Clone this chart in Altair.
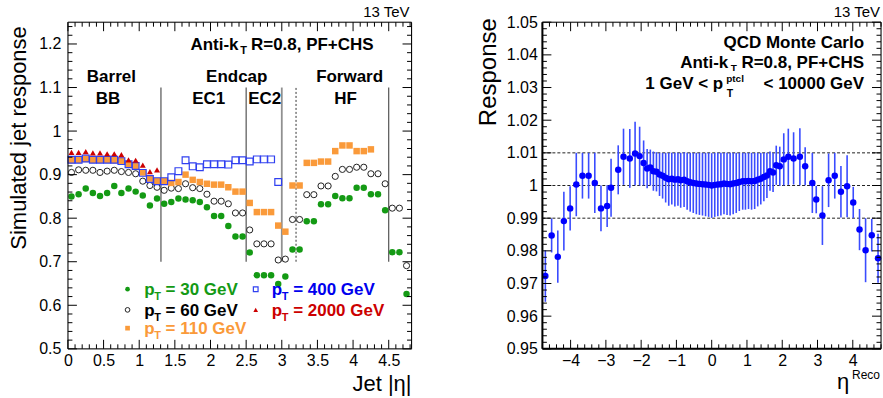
import altair as alt
import pandas as pd

FONT = "Liberation Sans"

# ---------------- left panel data ----------------
eta_bins = [0.05, 0.15, 0.25, 0.35, 0.45, 0.55, 0.65, 0.75, 0.85, 0.95, 1.05, 1.15,
            1.25, 1.35, 1.45, 1.55, 1.65, 1.75, 1.85, 1.95, 2.05, 2.15, 2.25, 2.35,
            2.45, 2.55, 2.65, 2.75, 2.85, 2.95, 3.05, 3.15, 3.25, 3.35, 3.45, 3.55,
            3.65, 3.75, 3.85, 3.95, 4.05, 4.15, 4.25, 4.35, 4.45, 4.55, 4.65, 4.75]
N = None
pt30 = [0.850, 0.855, 0.868, 0.858, 0.851, 0.858, 0.874, 0.858, 0.868, 0.861, 0.852, 0.829,
        0.845, 0.833, 0.837, 0.845, 0.843, 0.841, 0.837, 0.825, 0.805, 0.805, 0.782, 0.758,
        0.758, 0.721, 0.669, 0.669, 0.669, 0.649, 0.666, 0.728, 0.728, 0.793, 0.793, 0.832,
        0.832, 0.851, 0.846, 0.846, 0.870, 0.870, 0.855, 0.855, 0.818, 0.722, 0.722, 0.626]
pt60 = [0.905, 0.911, 0.910, 0.910, 0.905, 0.908, 0.910, 0.907, 0.905, 0.902, 0.885, 0.875,
        0.871, 0.864, 0.869, 0.868, 0.879, 0.870, 0.868, 0.855, 0.839, 0.839, 0.833, 0.812,
        0.812, 0.773, 0.741, 0.741, 0.741, 0.704, 0.706, 0.797, 0.797, 0.854, 0.854, 0.874,
        0.874, 0.896, 0.912, 0.912, 0.917, 0.917, 0.902, 0.902, 0.879, 0.823, 0.823, 0.691]
pt110 = [0.933, 0.934, 0.936, 0.934, 0.934, 0.934, 0.933, 0.931, 0.924, 0.920, 0.905, 0.891,
         0.885, 0.885, 0.881, 0.883, 0.900, 0.888, 0.883, 0.879, 0.877, 0.877, 0.871, 0.861,
         0.861, 0.835, 0.814, 0.814, 0.814, 0.783, 0.769, 0.875, 0.875, 0.927, 0.927, 0.930,
         0.930, 0.954, 0.967, 0.967, 0.954, 0.954, 0.958, N, N, N, N, N]
pt400 = [0.934, 0.934, 0.937, 0.934, 0.934, 0.934, 0.934, 0.931, 0.924, 0.920, 0.904, 0.890,
         0.885, 0.885, 0.894, 0.908, 0.933, 0.919, 0.917, 0.924, 0.924, 0.924, 0.923, 0.933,
         0.933, 0.930, 0.935, 0.935, 0.935, 0.883, N, N, N, N, N, N,
         N, N, N, N, N, N, N, N, N, N, N, N]
pt2000 = [0.951, 0.951, 0.953, 0.950, 0.950, 0.948, 0.948, 0.946, 0.934, 0.933, 0.922, 0.907,
          0.911, N, N, N, N, N, N, N, N, N, N, N,
          N, N, N, N, N, N, N, N, N, N, N, N,
          N, N, N, N, N, N, N, N, N, N, N, N]
region_lines = [1.305, 2.5, 4.5]
ec2_line = [3.0]
hf_line = [3.2]

# ---------------- right panel data ----------------
eta_reco = [-4.716, -4.538, -4.363, -4.191, -4.013, -3.839, -3.664, -3.489, -3.314, -3.139,
            -2.964, -2.853, -2.65, -2.5, -2.322, -2.172, -2.043, -1.93, -1.83, -1.74,
            -1.653, -1.566, -1.479, -1.392, -1.305, -1.218, -1.131, -1.044, -0.957, -0.879,
            -0.783, -0.696, -0.609, -0.522, -0.435, -0.348, -0.261, -0.174, -0.087, 0.0,
            0.087, 0.174, 0.261, 0.348, 0.435, 0.522, 0.609, 0.696, 0.783, 0.879,
            0.957, 1.044, 1.131, 1.218, 1.305, 1.392, 1.479, 1.566, 1.653, 1.74,
            1.83, 1.93, 2.043, 2.172, 2.322, 2.5, 2.65, 2.853, 2.964, 3.139,
            3.314, 3.489, 3.664, 3.839, 4.013, 4.191, 4.363, 4.538, 4.716]
response = [0.9723, 0.9847, 0.9782, 0.9891, 0.9930, 1.0003, 1.0030, 1.0030, 1.0008, 0.9930,
            0.9937, 0.9993, 1.0048, 1.0088, 1.0083, 1.0098, 1.0090, 1.0069, 1.0052, 1.0055,
            1.0044, 1.0042, 1.0034, 1.0030, 1.0024, 1.0019, 1.0021, 1.0018, 1.0019, 1.0016,
            1.0018, 1.0013, 1.0010, 1.0008, 1.0006, 1.0005, 1.0004, 1.0003, 1.0002, 1.0000,
            1.0002, 1.0003, 1.0004, 1.0006, 1.0005, 1.0004, 1.0006, 1.0008, 1.0011, 1.0013,
            1.0013, 1.0014, 1.0013, 1.0014, 1.0018, 1.0021, 1.0026, 1.0031, 1.0044, 1.0040,
            1.0062, 1.0059, 1.0080, 1.0088, 1.0083, 1.0088, 1.0059, 1.0008, 0.9957, 0.9908,
            1.0016, 1.0030, 0.9981, 0.9998, 0.9948, 0.9865, 0.9802, 0.9848, 0.9777]
resp_err = [0.0079, 0.0052, 0.0080, 0.0090, 0.0068, 0.0097, 0.0070, 0.0070, 0.0092, 0.0070,
            0.0064, 0.0089, 0.0075, 0.0086, 0.0090, 0.0097, 0.0090, 0.0069, 0.0060, 0.0055,
            0.0060, 0.0060, 0.0066, 0.0070, 0.0076, 0.0081, 0.0079, 0.0082, 0.0081, 0.0084,
            0.0084, 0.0087, 0.0090, 0.0092, 0.0094, 0.0095, 0.0096, 0.0097, 0.0098, 0.0099,
            0.0098, 0.0097, 0.0096, 0.0094, 0.0095, 0.0096, 0.0094, 0.0092, 0.0089, 0.0087,
            0.0087, 0.0086, 0.0087, 0.0086, 0.0082, 0.0079, 0.0074, 0.0069, 0.0060, 0.0060,
            0.0060, 0.0060, 0.0080, 0.0086, 0.0080, 0.0087, 0.0058, 0.0092, 0.0042, 0.0090,
            0.0082, 0.0070, 0.0079, 0.0095, 0.0048, 0.0063, 0.0098, 0.0050, 0.0075]
ref_lines = [0.99, 1.0, 1.01]

# ---------------- layout ----------------
W1, W2, H = 344, 339, 327
GREEN, ORANGE, BLUE, RED = "#149a14", "#fa9a3a", "#3040f0", "#cc0000"

xs_l = alt.Scale(domain=[0, 4.82], nice=False, zero=False)
ys_l = alt.Scale(domain=[0.5, 1.25], nice=False, zero=False)
xs_r = alt.Scale(domain=[-4.8, 4.8], nice=False, zero=False)
ys_r = alt.Scale(domain=[0.95, 1.05], nice=False, zero=False)

AX = dict(ticks=False, tickSize=0, domain=False, grid=False, labelFontSize=16, labelFont=FONT,
          labelColor="black", labelFlush=False, labelOverlap=False, title=None)
xl_axis = alt.Axis(values=[0, 0.5, 1, 1.5, 2, 2.5, 3, 3.5, 4, 4.5], format=".1~f",
                   labelPadding=4, **AX)
yl_axis = alt.Axis(values=[0.5, 0.6, 0.7, 0.8, 0.9, 1.0, 1.1, 1.2], format=".1~f",
                   labelPadding=7, **AX)
xr_axis = alt.Axis(values=[-4, -3, -2, -1, 0, 1, 2, 3, 4], format="d", labelPadding=4, **AX)
yr_axis = alt.Axis(values=[0.95, 0.96, 0.97, 0.98, 0.99, 1.0, 1.01, 1.02, 1.03, 1.04, 1.05],
                   format=".2~f", labelPadding=5, **AX)


def one():
    return pd.DataFrame({"a": [0]})


def txt(s, x, y, size=17, bold=True, color="black", align="left", angle=0):
    return alt.Chart(pd.DataFrame({"t": [s]})).mark_text(
        align=align, baseline="alphabetic", fontSize=size, font=FONT,
        fontWeight="bold" if bold else "normal", color=color, angle=angle
    ).encode(x=alt.value(x), y=alt.value(y), text="t:N")


def seg(x1, y1, x2, y2, color="black", width=1):
    return alt.Chart(one()).mark_rule(color=color, strokeWidth=width).encode(
        x=alt.value(x1), x2=alt.value(x2), y=alt.value(y1), y2=alt.value(y2))


def ticks(xs, ys, xax, yax, xmaj, xmin, ymaj, ymin, W):
    out = []
    for vals, L in [(xmaj, 9), (xmin, 4.5)]:
        b = alt.Chart(pd.DataFrame({"v": vals})).mark_rule(color="black", strokeWidth=1)
        out.append(b.encode(x=alt.X("v:Q", scale=xs, axis=xax), y=alt.value(H), y2=alt.value(H - L)))
        out.append(b.encode(x=alt.X("v:Q", scale=xs, axis=xax), y=alt.value(0), y2=alt.value(L)))
    for vals, L in [(ymaj, 9), (ymin, 4.5)]:
        b = alt.Chart(pd.DataFrame({"v": vals})).mark_rule(color="black", strokeWidth=1)
        out.append(b.encode(y=alt.Y("v:Q", scale=ys, axis=yax), x=alt.value(0), x2=alt.value(L)))
        out.append(b.encode(y=alt.Y("v:Q", scale=ys, axis=yax), x=alt.value(W), x2=alt.value(W - L)))
    return out


def anchor(x, y):
    return alt.Chart(one()).mark_rule(opacity=0, strokeWidth=1).encode(
        x=alt.value(x), x2=alt.value(x), y=alt.value(y), y2=alt.value(y))


# ---------------- left panel ----------------
left_df = pd.DataFrame({"eta": eta_bins, "r30": pt30, "r60": pt60, "r110": pt110,
                        "r400": pt400, "r2000": pt2000})
l_layers = []
lines_df = pd.DataFrame({"e": region_lines, "lo": [0.7] * 3, "hi": [1.1] * 3})
l_layers.append(alt.Chart(lines_df).mark_rule(color="#444444", strokeWidth=1.1).encode(
    x=alt.X("e:Q", scale=xs_l, axis=xl_axis), y=alt.Y("lo:Q", scale=ys_l, axis=yl_axis), y2="hi:Q"))
ec2_df = pd.DataFrame({"e": ec2_line, "lo": [0.7], "hi": [1.1]})
l_layers.append(alt.Chart(ec2_df).mark_rule(color="#909090", strokeWidth=1.8).encode(
    x=alt.X("e:Q", scale=xs_l, axis=xl_axis), y=alt.Y("lo:Q", scale=ys_l, axis=yl_axis), y2="hi:Q"))
hf_df = pd.DataFrame({"e": hf_line, "lo": [0.7], "hi": [1.1]})
l_layers.append(alt.Chart(hf_df).mark_rule(color="#333333", strokeWidth=1, strokeDash=[2, 2]).encode(
    x=alt.X("e:Q", scale=xs_l, axis=xl_axis), y=alt.Y("lo:Q", scale=ys_l, axis=yl_axis), y2="hi:Q"))

ser = [("r30", dict(shape="circle", filled=True, size=42, color=GREEN)),
       ("r60", dict(shape="circle", filled=False, size=38, color="#222222", strokeWidth=1)),
       ("r110", dict(shape="square", filled=True, size=42, color=ORANGE)),
       ("r400", dict(shape="square", filled=False, size=46, color=BLUE, strokeWidth=1.2)),
       ("r2000", dict(shape="triangle-up", filled=True, size=36, color=RED))]
for col, st in ser:
    l_layers.append(alt.Chart(left_df).mark_point(opacity=1, **st).encode(
        x=alt.X("eta:Q", scale=xs_l, axis=xl_axis), y=alt.Y(col + ":Q", scale=ys_l, axis=yl_axis)))

l_layers += ticks(xs_l, ys_l, xl_axis, yl_axis,
                  [0, 0.5, 1, 1.5, 2, 2.5, 3, 3.5, 4, 4.5],
                  [v / 10 for v in range(49) if v % 5 != 0],
                  [0.5, 0.6, 0.7, 0.8, 0.9, 1.0, 1.1, 1.2],
                  [v / 100 for v in range(50, 126, 2) if v % 10 != 0], W1)
l_layers += [seg(0, 0, W1, 0), seg(0, H, W1, H), seg(0, 0, 0, H), seg(W1, 0, W1, H)]

l_layers += [
    txt("13 TeV", W1 - 2, -5, size=15, bold=False, align="right"),
    txt("Anti-k", 122.7, 28), txt("T", 172.5, 32, size=11), txt("R=0.8, PF+CHS", 306, 28, align="right"),
    txt("Barrel", 43.5, 60.3, align="center"), txt("BB", 40, 82.3, align="center"),
    txt("Endcap", 169, 60.3, align="center"), txt("EC1", 141, 82.3, align="center"),
    txt("EC2", 197, 82.3, align="center"),
    txt("Forward", 282, 60.3, align="center"), txt("HF", 278, 82.3, align="center"),
    txt("Simulated jet response", -42, 4, size=22, bold=False, align="right", angle=270),
    txt("Jet |η|", W1, 369, size=22, bold=False, align="right"),
]
legend_rows = [(59.7, 267.3, 76.3, "= 30 GeV", GREEN, ser[0][1]),
               (59.7, 288.0, 76.3, "= 60 GeV", "black", ser[1][1]),
               (59.7, 306.3, 76.3, "= 110 GeV", ORANGE, ser[2][1]),
               (188.0, 267.3, 204.0, "= 400 GeV", "#0000ee", ser[3][1]),
               (188.0, 288.0, 204.0, "= 2000 GeV", RED, ser[4][1])]
for mx, my, tx, label, col, st in legend_rows:
    st2 = dict(st)
    st2["size"] = 22
    l_layers.append(alt.Chart(one()).mark_point(opacity=1, **st2).encode(
        x=alt.value(mx), y=alt.value(my)))
    l_layers.append(txt("p", tx, my + 6, color=col))
    l_layers.append(txt("T", tx + 10, my + 11, size=11, color=col))
    l_layers.append(txt(label, tx + 21.5, my + 6, color=col))
l_layers += [anchor(-67.5, -21.5), anchor(0, H + 48.5)]

left = alt.layer(*l_layers).properties(width=W1, height=H)

# ---------------- right panel ----------------
rdf = pd.DataFrame({"eta": eta_reco, "resp": response, "err": resp_err})
rdf["lo"] = rdf["resp"] - rdf["err"]
rdf["hi"] = rdf["resp"] + rdf["err"]

r_layers = []
ref_df = pd.DataFrame({"v": ref_lines})
r_layers.append(alt.Chart(ref_df).mark_rule(color="#222222", strokeWidth=1, strokeDash=[3, 2]).encode(
    y=alt.Y("v:Q", scale=ys_r, axis=yr_axis), x=alt.value(0), x2=alt.value(W2)))
r_layers.append(alt.Chart(rdf).mark_rule(color="#3a4cff", strokeWidth=1.6).encode(
    x=alt.X("eta:Q", scale=xs_r, axis=xr_axis), y=alt.Y("lo:Q", scale=ys_r, axis=yr_axis), y2="hi:Q"))
r_layers.append(alt.Chart(rdf).mark_point(shape="circle", filled=True, size=42, color="#0000ff",
                                          opacity=1).encode(
    x=alt.X("eta:Q", scale=xs_r, axis=xr_axis), y=alt.Y("resp:Q", scale=ys_r, axis=yr_axis)))
r_layers += ticks(xs_r, ys_r, xr_axis, yr_axis, [-4, -3, -2, -1, 0, 1, 2, 3, 4],
                  [v / 5 for v in range(-24, 25) if v % 5 != 0],
                  [0.95, 0.96, 0.97, 0.98, 0.99, 1.0, 1.01, 1.02, 1.03, 1.04, 1.05],
                  [v / 1000 for v in range(950, 1051, 2) if v % 10 != 0], W2)
r_layers += [seg(0, 0, W2, 0), seg(W2, 0, W2, H), seg(0, H, W2, H, width=2), seg(0, 0, 0, H, width=2)]
r_layers += [
    txt("13 TeV", W2 - 1, -5, size=15, bold=False, align="right"),
    txt("QCD Monte Carlo", 322, 25.8, align="right"),
    txt("Anti-k", 138, 46.3), txt("T", 188.5, 49, size=10), txt("R=0.8, PF+CHS", 322, 46.3, align="right"),
    txt("1 GeV < p", 181, 67.3, align="right"), txt("ptcl", 184, 59.5, size=10),
    txt("T", 184.5, 74.5, size=10.5),
    txt("< 10000 GeV", 322, 67.3, align="right"),
    txt("Response", -46, -4, size=24, bold=False, align="right", angle=270),
    txt("η", 295, 367, size=22, bold=False), txt("Reco", W2 - 1, 357, size=12, bold=False, align="right"),
    anchor(W2 + 0.5, 0),
]
right = alt.layer(*r_layers).properties(width=W2, height=H)

chart = alt.hconcat(left, right, spacing=131, bounds="flush").properties(padding=0).configure_view(
    stroke=None).configure(font=FONT)

chart.save("out.html", embed_options={"renderer": "svg", "actions": False})
